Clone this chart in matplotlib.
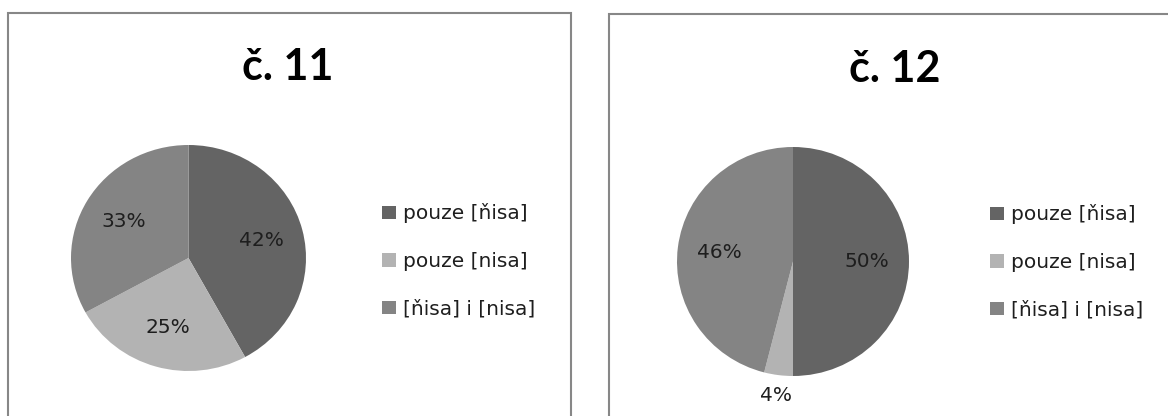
import numpy as np
import matplotlib.pyplot as plt
from matplotlib.patches import Rectangle

# ------------------------------
# 1. Data
# ------------------------------
titles = ["č. 11", "č. 12"]
categories = ["pouze [ňisa]", "pouze [nisa]", "[ňisa] i [nisa]"]
values_11 = [42, 25, 33]
values_12 = [50, 4, 46]
colors = ["#646464", "#b3b3b3", "#848484"]

# ------------------------------
# 2. Figure setup (pixel helpers)
# ------------------------------
W, H = 1168, 416
fig = plt.figure(figsize=(W / 100, H / 100), dpi=100)
fig.patch.set_facecolor("white")


def fx(px):
    return px / W


def fy(py):
    # py measured from the top of the image
    return 1 - py / H


font = ["DejaVu Sans"]

# panel borders (bottom and right edge run off the picture)
for x0, x1, top in [(8, 571, 13), (609, 1180, 14)]:
    fig.patches.append(Rectangle((fx(x0), fy(H + 10)), fx(x1 - x0), (H + 10 - top) / H,
                                 transform=fig.transFigure, fill=False,
                                 edgecolor="#878787", linewidth=1.5))

# ------------------------------
# 3. Pies
# ------------------------------
panels = [
    # values, pie box (left, right, top, bottom), title pos, legend pos
    (values_11, (71, 306, 145, 371), (288, 80), (382, 261)),
    (values_12, (677, 909, 147, 376), (895, 82), (990, 262)),
]

for (vals, box, tpos, lpos), title in zip(panels, titles):
    l, r, t, b = box
    ax = fig.add_axes([fx(l), fy(b), fx(r - l), (b - t) / H])
    wedges, texts, autotexts = ax.pie(
        vals, colors=colors, startangle=90, counterclock=False,
        autopct="%d%%", pctdistance=0.64, radius=1,
        textprops=dict(fontsize=14.5, color="#1e1e1e", family=font),
    )
    ax.set_aspect("auto")
    ax.set_xlim(-1, 1)
    ax.set_ylim(-1, 1)

    # small slices get their label outside the pie
    for w, at, v in zip(wedges, autotexts, vals):
        if v < 5:
            ang = np.deg2rad((w.theta1 + w.theta2) / 2)
            at.set_position((1.18 * np.cos(ang), 1.18 * np.sin(ang)))

    fig.text(fx(tpos[0]), fy(tpos[1]), title, ha="center", va="baseline",
             fontsize=31, fontweight="bold", family=["Lato", "DejaVu Sans"])

    fig.legend(wedges, categories, loc="center left",
               bbox_to_anchor=(fx(lpos[0]), fy(lpos[1])),
               frameon=False, borderpad=0, borderaxespad=0,
               handlelength=0.68, handleheight=0.63, handletextpad=0.35,
               labelspacing=1.42, prop=dict(family=font, size=14.5),
               labelcolor="#1e1e1e")

fig.savefig("out.png", dpi=100)
